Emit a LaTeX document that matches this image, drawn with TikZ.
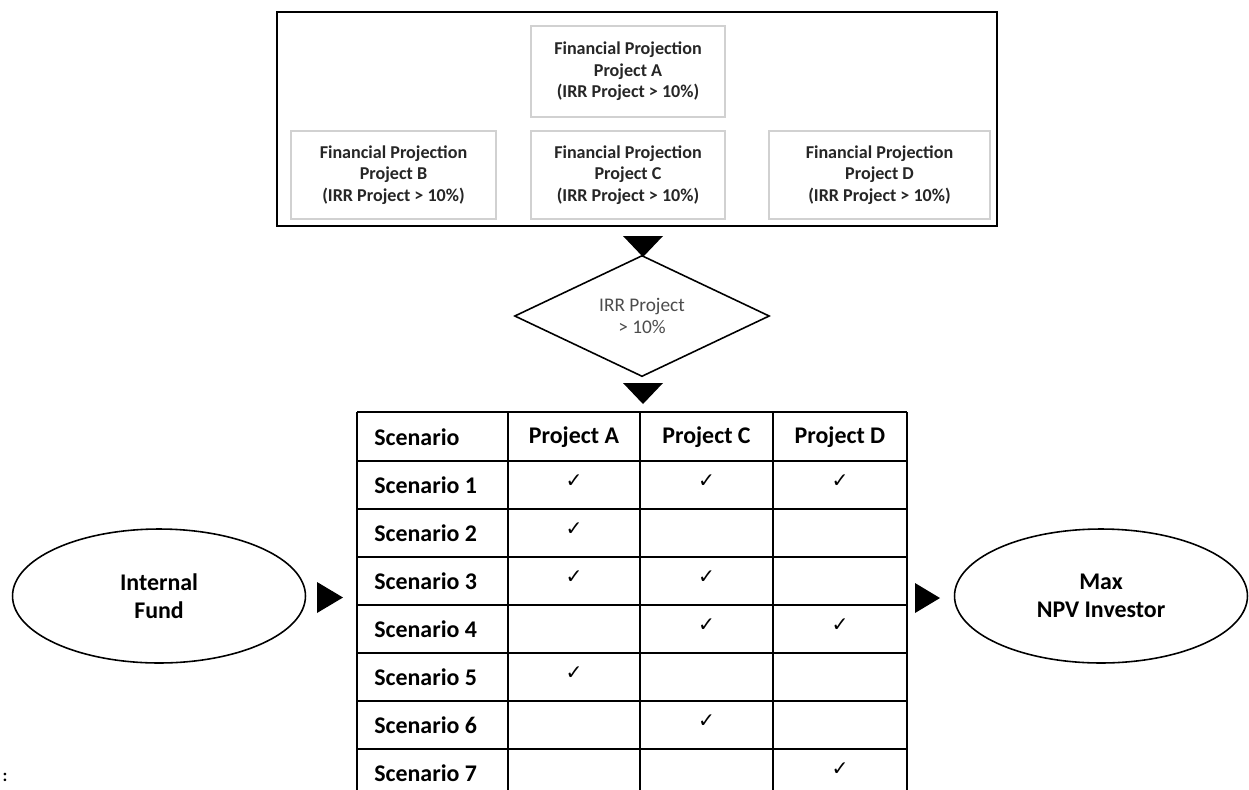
\documentclass[tikz,border=0pt]{standalone}
\usepackage{fontspec}
\setmainfont{Carlito}
\newfontfamily\symfont{DejaVu Sans}
\usetikzlibrary{shapes.geometric}
\tikzset{
  outerbox/.style={draw=black, line width=1.3pt, inner sep=0pt},
  projbox/.style={draw=black!18, line width=1.3pt, inner sep=0pt, align=center, text=black!85,
    font=\bfseries\fontsize{10.3}{12.3}\selectfont},
  decision/.style={diamond, draw=black, line width=0.9pt, inner sep=0pt, align=center, text=black!70,
    font=\fontsize{11}{12.5}\selectfont, minimum width=5.1cm, minimum height=2.1cm},
  oval/.style={ellipse, draw=black, line width=0.9pt, inner sep=0pt, align=center,
    font=\bfseries\fontsize{13.6}{16}\selectfont, minimum width=5.86cm, minimum height=2.68cm},
  tri/.style={fill=black},
  grid/.style={line width=1.4pt},
  rowlabel/.style={anchor=west, inner sep=0pt, font=\bfseries\fontsize{13.6}{16}\selectfont},
  head/.style={inner sep=0pt, font=\bfseries\fontsize{13.6}{16}\selectfont},
  tick/.style={inner sep=0pt, font=\symfont\fontsize{11.5}{12}\selectfont}
}
\begin{document}
\begin{tikzpicture}[x=0.02cm, y=-0.02cm]
\useasboundingbox (0,0) rectangle (1249,789);
% top box
\node[outerbox, minimum width=14.4cm, minimum height=4.28cm] (outer) at (637,119) {};
\node[projbox, minimum width=3.88cm, minimum height=1.82cm] (pa) at (628,71.5) {Financial Projection\\Project A\\(IRR Project > 10\%)};
\node[projbox, minimum width=4.1cm, minimum height=1.76cm] (pb) at (393.5,175) {Financial Projection\\Project B\\(IRR Project > 10\%)};
\node[projbox, minimum width=3.88cm, minimum height=1.76cm] (pc) at (628,175) {Financial Projection\\Project C\\(IRR Project > 10\%)};
\node[projbox, minimum width=4.42cm, minimum height=1.76cm] (pd) at (879.5,175) {Financial Projection\\Project D\\(IRR Project > 10\%)};
% arrows down
\coordinate (t1) at (643,236);
\fill[tri] (t1) ++(-20,0) -- ++(40,0) -- ++(-20,21) -- cycle;
\node[decision] (irr) at (642,316) {IRR Project\\> 10\%};
\coordinate (t2) at (643,383);
\fill[tri] (t2) ++(-20,0) -- ++(40,0) -- ++(-20,21) -- cycle;
% table grid
\foreach \yy in {412,461,509,557,605,653,701,749}
  \draw[grid] (357,\yy) -- (907,\yy);
\foreach \xx in {357,508,640,773,907}
  \draw[grid] (\xx,412) -- (\xx,795);
% header
\node[rowlabel] (h0) at (374,437) {Scenario};
\node[head] (ha) at (574,437) {Project A};
\node[head] (hc) at (706.5,437) {Project C};
\node[head] (hd) at (840,437) {Project D};
% rows
\foreach \i/\yy in {1/485,2/533,3/581,4/629,5/677,6/725,7/773}
  \node[rowlabel] (s\i) at (374,\yy) {Scenario \i};
% ticks
\foreach \n/\xx/\yy in {a1/574/481,c1/706.5/481,d1/840/481,
    a2/574/529,
    a3/574/577,c3/706.5/577,
    c4/706.5/625,d4/840/625,
    a5/574/673,
    c6/706.5/721,
    d7/840/769}
  \node[tick] (k\n) at (\xx,\yy) {✓};
% ellipses
\node[oval] (fund) at (159,596) {Internal\\Fund};
\node[oval] (npv) at (1101,596) {Max\\NPV Investor};
\coordinate (t3) at (317,582);
\fill[tri] (t3) -- ++(0,31) -- ++(26,-15.5) -- cycle;
\coordinate (t4) at (915,583);
\fill[tri] (t4) -- ++(0,30) -- ++(25,-15) -- cycle;
% stray colon
\node[inner sep=0pt, font=\bfseries\fontsize{10}{12}\selectfont] (colon) at (5,777) {:};
\end{tikzpicture}
\end{document}
